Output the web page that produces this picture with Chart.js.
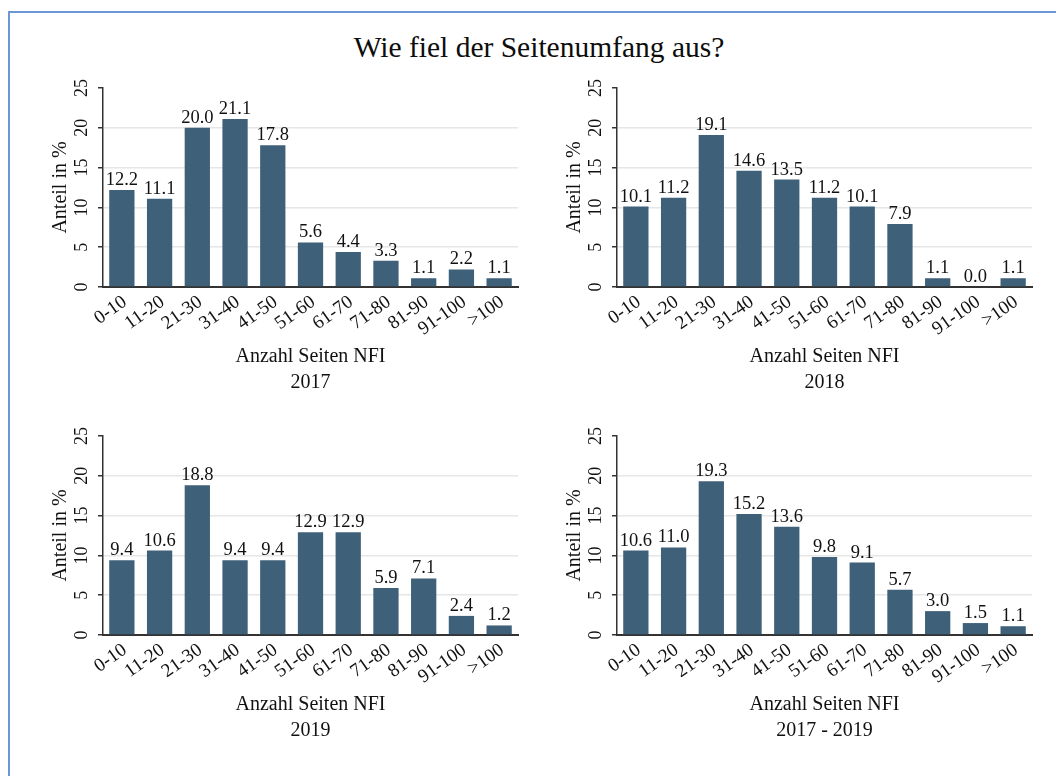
<!DOCTYPE html>
<html>
<head>
<meta charset="utf-8">
<script src="https://cdn.jsdelivr.net/npm/chart.js@4.4.1/dist/chart.umd.min.js"></script>
<style>
  body { margin: 0; background: #fff; width: 1056px; height: 776px; overflow: hidden; position: relative; }
  #frame { position: absolute; left: 8px; top: 11px; width: 1100px; height: 800px;
           border-left: 2px solid #6b97d6; border-top: 2px solid #6b97d6; }
  #title { position: absolute; left: 0; width: 1078px; top: 31px; text-align: center;
           font: 29.5px/32px "Liberation Serif", serif; color: #0d0d0d; }
  canvas { position: absolute; }
</style>
</head>
<body>
<div id="frame"></div>
<div id="title">Wie fiel der Seitenumfang aus?</div>
<canvas id="c2017" width="480" height="326" style="left:49px;top:70px"></canvas>
<canvas id="c2018" width="480" height="326" style="left:563px;top:70px"></canvas>
<canvas id="c2019" width="480" height="326" style="left:49px;top:418px"></canvas>
<canvas id="cAll" width="480" height="326" style="left:563px;top:418px"></canvas>
<script>
const categories = ['0-10', '11-20', '21-30', '31-40', '41-50', '51-60', '61-70', '71-80', '81-90', '91-100', '>100'];
const share2017 = [12.2, 11.1, 20.0, 21.1, 17.8, 5.6, 4.4, 3.3, 1.1, 2.2, 1.1];
const share2018 = [10.1, 11.2, 19.1, 14.6, 13.5, 11.2, 10.1, 7.9, 1.1, 0.0, 1.1];
const share2019 = [9.4, 10.6, 18.8, 9.4, 9.4, 12.9, 12.9, 5.9, 7.1, 2.4, 1.2];
const shareAll = [10.6, 11.0, 19.3, 15.2, 13.6, 9.8, 9.1, 5.7, 3.0, 1.5, 1.1];
const yTicks = [0, 5, 10, 15, 20, 25];

Chart.defaults.font.family = '"Liberation Serif", "Times New Roman", serif';
Chart.defaults.color = '#111';

// draws the value above every bar
const valueLabels = {
  id: 'valueLabels',
  afterDatasetsDraw(chart) {
    const ctx = chart.ctx;
    const meta = chart.getDatasetMeta(0);
    const values = chart.data.datasets[0].data;
    ctx.save();
    ctx.font = '18.5px "Liberation Serif", serif';
    ctx.fillStyle = '#111';
    ctx.textAlign = 'center';
    ctx.textBaseline = 'alphabetic';
    meta.data.forEach((bar, i) => {
      ctx.fillText(values[i].toFixed(1), bar.x, bar.y - 5);
    });
    ctx.restore();
  }
};

function makePanel(id, values, period) {
  return new Chart(document.getElementById(id), {
    type: 'bar',
    data: {
      labels: categories,
      datasets: [{
        data: values,
        backgroundColor: '#3e6079',
        borderWidth: 0,
        categoryPercentage: 1,
        barPercentage: 0.67
      }]
    },
    options: {
      responsive: false,
      animation: false,
      devicePixelRatio: 1,
      layout: { padding: { top: 18, right: 11, left: 0, bottom: 0 } },
      plugins: { legend: { display: false }, tooltip: { enabled: false } },
      scales: {
        x: {
          grid: { display: false, drawTicks: false },
          border: { display: true, color: '#333', width: 2 },
          ticks: { font: { size: 19 }, minRotation: 35, maxRotation: 35, padding: 4, labelOffset: 3, autoSkip: false },
          title: {
            display: true,
            text: ['Anzahl Seiten NFI', period],
            font: { size: 20, lineHeight: 1.3 },
            padding: 0
          },
          afterFit(scale) { scale.height = 109; }
        },
        y: {
          min: 0,
          max: 25,
          afterBuildTicks(scale) { scale.ticks = yTicks.map(v => ({ value: v })); },
          grid: {
            color: c => (c.tick && (c.tick.value === 0 || c.tick.value === 25)) ? 'rgba(0,0,0,0)' : '#e6e6e6',
            lineWidth: 1.5,
            tickColor: '#333',
            tickLength: 5,
            tickWidth: 1.5
          },
          border: { display: true, color: '#333', width: 1.5 },
          ticks: { font: { size: 18 }, minRotation: 90, maxRotation: 90, crossAlign: 'center', padding: 7 },
          title: {
            display: true,
            text: 'Anteil in %',
            font: { size: 20, lineHeight: 1.2 },
            padding: 0
          },
          afterFit(scale) { scale.width = 54; }
        }
      }
    },
    plugins: [valueLabels]
  });
}

makePanel('c2017', share2017, '2017');
makePanel('c2018', share2018, '2018');
makePanel('c2019', share2019, '2019');
makePanel('cAll', shareAll, '2017 - 2019');
</script>
</body>
</html>
